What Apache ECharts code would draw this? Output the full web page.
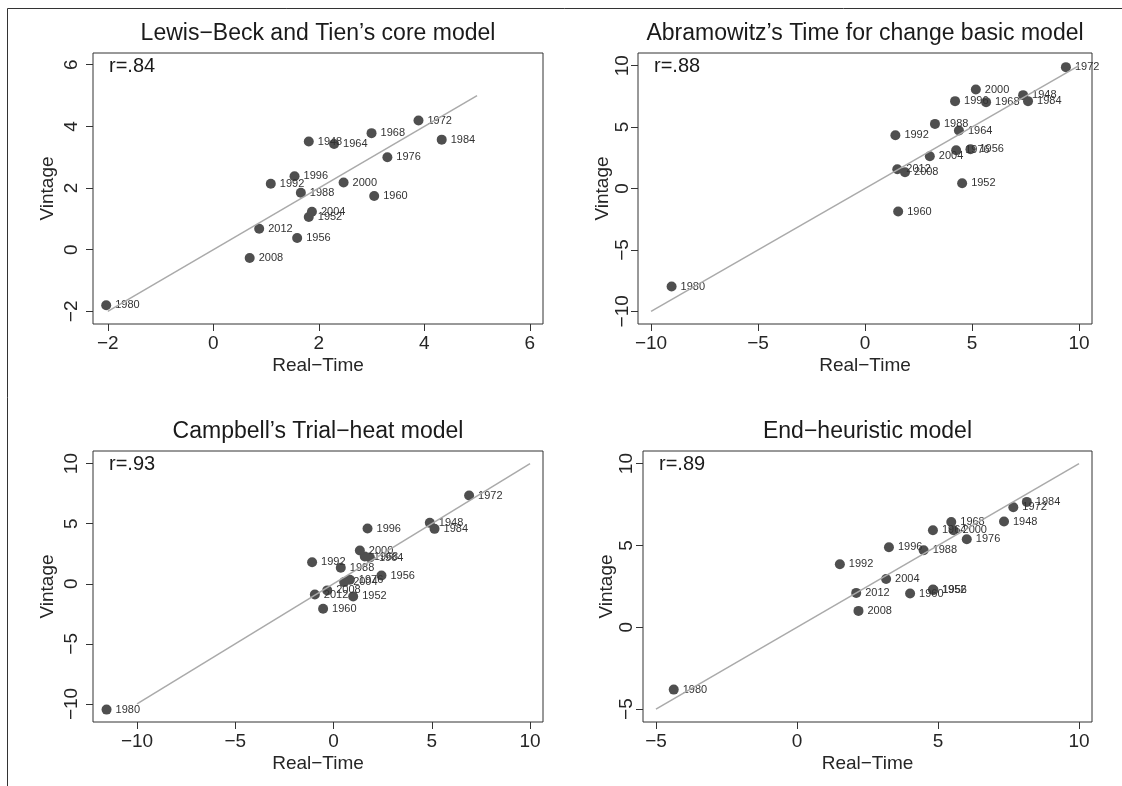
<!DOCTYPE html>
<html>
<head>
<meta charset="utf-8">
<title>Real-Time vs Vintage</title>
<script src="https://cdn.jsdelivr.net/npm/echarts@6/dist/echarts.min.js"></script>
<style>
  html, body { margin: 0; padding: 0; background: #fff; }
  #main { width: 1122px; height: 786px; }
</style>
</head>
<body>
<div id="main"></div>
<script>
// election years (same order in every panel)
var years = [1948, 1952, 1956, 1960, 1964, 1968, 1972, 1976, 1980, 1984, 1988, 1992, 1996, 2000, 2004, 2008, 2012];

// Lewis-Beck and Tien's core model
var lbtReal    = [1.81, 1.81, 1.59, 3.05, 2.29, 3.00, 3.89, 3.30, -2.03, 4.33, 1.66, 1.09, 1.54, 2.47, 1.87, 0.69, 0.87];
var lbtVintage = [3.51, 1.06, 0.38, 1.74, 3.43, 3.78, 4.19, 3.00, -1.80, 3.57, 1.85, 2.14, 2.38, 2.18, 1.23, -0.27, 0.68];

// Abramowitz's Time for change basic model
var abrReal    = [7.39, 4.54, 4.93, 1.55, 4.39, 5.66, 9.39, 4.26, -9.04, 7.62, 3.27, 1.42, 4.21, 5.18, 3.03, 1.87, 1.51];
var abrVintage = [7.60, 0.43, 3.20, -1.87, 4.72, 7.03, 9.88, 3.12, -7.98, 7.11, 5.26, 4.34, 7.11, 8.06, 2.63, 1.33, 1.57];

// Campbell's Trial-heat model
var camReal    = [4.90, 1.00, 2.44, -0.53, 1.85, 1.59, 6.90, 0.83, -11.55, 5.14, 0.37, -1.09, 1.73, 1.34, 0.54, -0.32, -0.95];
var camVintage = [5.07, -1.05, 0.69, -2.08, 2.19, 2.27, 7.34, 0.34, -10.47, 4.57, 1.33, 1.80, 4.60, 2.77, 0.14, -0.55, -0.89];

// End-heuristic model
var endReal    = [7.34, 4.82, 4.84, 4.01, 4.82, 5.47, 7.67, 6.02, -4.37, 8.15, 4.49, 1.52, 3.26, 5.55, 3.16, 2.18, 2.10];
var endVintage = [6.46, 2.30, 2.28, 2.06, 5.93, 6.43, 7.33, 5.38, -3.81, 7.66, 4.70, 3.85, 4.89, 5.93, 2.95, 1.00, 2.10];

// 45 degree reference lines (start, end)
var lbtDiag = [-2, 5];
var abrDiag = [-10, 10];
var camDiag = [-10, 10];
var endDiag = [-5, 10];

// tick labels
var lbtTicks = [-2, 0, 2, 4, 6];
var wideTicks = [-10, -5, 0, 5, 10];
var endTicks = [-5, 0, 5, 10];

var titles = ["Lewis\u2212Beck and Tien\u2019s core model", "Abramowitz\u2019s Time for change basic model",
              "Campbell\u2019s Trial\u2212heat model", "End\u2212heuristic model"];
var corrs = ["r=.84", "r=.88", "r=.93", "r=.89"];

var FONT = "Liberation Sans";
var TXT = "#262626";

function pts(xs, ys) {
  return xs.map(function (x, i) { return [x, ys[i], years[i]]; });
}
function minus(v) { return String(v).replace("-", "\u2212"); }

// panel layout: grid box + axis label placement
var panels = [
  { grid: { left: 93, top: 53, width: 450, height: 271 }, xr: [-2.28, 6.25], yr: [-2.41, 6.38],
    xt: lbtTicks, yt: lbtTicks, data: pts(lbtReal, lbtVintage), diag: lbtDiag, ym: 12, yg: 36 },
  { grid: { left: 638, top: 53, width: 454, height: 271 }, xr: [-10.61, 10.61], yr: [-11.03, 11.03],
    xt: wideTicks, yt: wideTicks, data: pts(abrReal, abrVintage), diag: abrDiag, ym: 6, yg: 16 },
  { grid: { left: 93, top: 451, width: 450, height: 271 }, xr: [-12.24, 10.66], yr: [-11.5, 11.05],
    xt: wideTicks, yt: wideTicks, data: pts(camReal, camVintage), diag: camDiag, ym: 12, yg: 36 },
  { grid: { left: 643, top: 451, width: 449, height: 271 }, xr: [-5.46, 10.46], yr: [-5.79, 10.77],
    xt: endTicks, yt: endTicks, data: pts(endReal, endVintage), diag: endDiag, ym: 7, yg: 21 }
];

var grids = [], xAxes = [], yAxes = [], series = [], graphics = [];

panels.forEach(function (p, i) {
  grids.push(Object.assign({ show: true, borderColor: "#333", borderWidth: 1, backgroundColor: "transparent" }, p.grid));

  xAxes.push({
    gridIndex: i, type: "value", min: p.xr[0], max: p.xr[1],
    name: "Real\u2212Time", nameLocation: "middle", nameGap: 32,
    nameTextStyle: { fontFamily: FONT, fontSize: 19, color: TXT },
    axisLine: { show: false, onZero: false },
    axisTick: { show: true, length: 7, inside: false, customValues: p.xt, lineStyle: { color: "#333" } },
    axisLabel: { customValues: p.xt, formatter: minus, margin: 10, fontFamily: FONT, fontSize: 19, color: TXT },
    splitLine: { show: false }
  });

  yAxes.push({
    gridIndex: i, type: "value", min: p.yr[0], max: p.yr[1],
    name: "Vintage", nameLocation: "middle", nameGap: p.yg,
    nameTextStyle: { fontFamily: FONT, fontSize: 19, color: TXT },
    axisLine: { show: false, onZero: false },
    axisTick: { show: true, length: 7, inside: false, customValues: p.yt, lineStyle: { color: "#333" } },
    axisLabel: { customValues: p.yt, formatter: minus, rotate: 90, margin: p.ym, fontFamily: FONT, fontSize: 19, color: TXT },
    splitLine: { show: false }
  });

  // points with year labels
  series.push({
    type: "scatter", xAxisIndex: i, yAxisIndex: i,
    symbolSize: 10,
    itemStyle: { color: "#4f4f4f", opacity: 1 },
    label: {
      show: true, position: "right", distance: 4,
      formatter: function (d) { return d.value[2]; },
      fontFamily: FONT, fontSize: 11, color: "#333"
    },
    emphasis: { disabled: true },
    data: p.data
  });

  // y = x reference line, drawn over the points
  series.push({
    type: "line", xAxisIndex: i, yAxisIndex: i,
    showSymbol: false, silent: true,
    lineStyle: { color: "#aaaaaa", width: 1.5 },
    data: [[p.diag[0], p.diag[0]], [p.diag[1], p.diag[1]]]
  });

  var g = p.grid;
  graphics.push({
    type: "text", x: g.left + g.width / 2, y: g.top - 19,
    style: { text: titles[i], font: "23px '" + FONT + "'", fill: "#1a1a1a", textAlign: "center", textVerticalAlign: "middle" }
  });
  graphics.push({
    type: "text", x: g.left + 16, y: g.top + 13,
    style: { text: corrs[i], font: "20px '" + FONT + "'", fill: "#1a1a1a", textAlign: "left", textVerticalAlign: "middle" }
  });
});

// outer frame (top + left only)
graphics.push({ type: "polyline", shape: { points: [[1122, 8.5], [7.5, 8.5], [7.5, 786]] },
  style: { stroke: "#333", lineWidth: 1, fill: null } });

var myChart = echarts.init(document.getElementById("main"), null, { renderer: "canvas" });
myChart.setOption({
  animation: false,
  backgroundColor: "#fff",
  textStyle: { fontFamily: FONT },
  grid: grids,
  xAxis: xAxes,
  yAxis: yAxes,
  series: series,
  graphic: graphics
});
window.onresize = function () { myChart.resize(); };
</script>
</body>
</html>
